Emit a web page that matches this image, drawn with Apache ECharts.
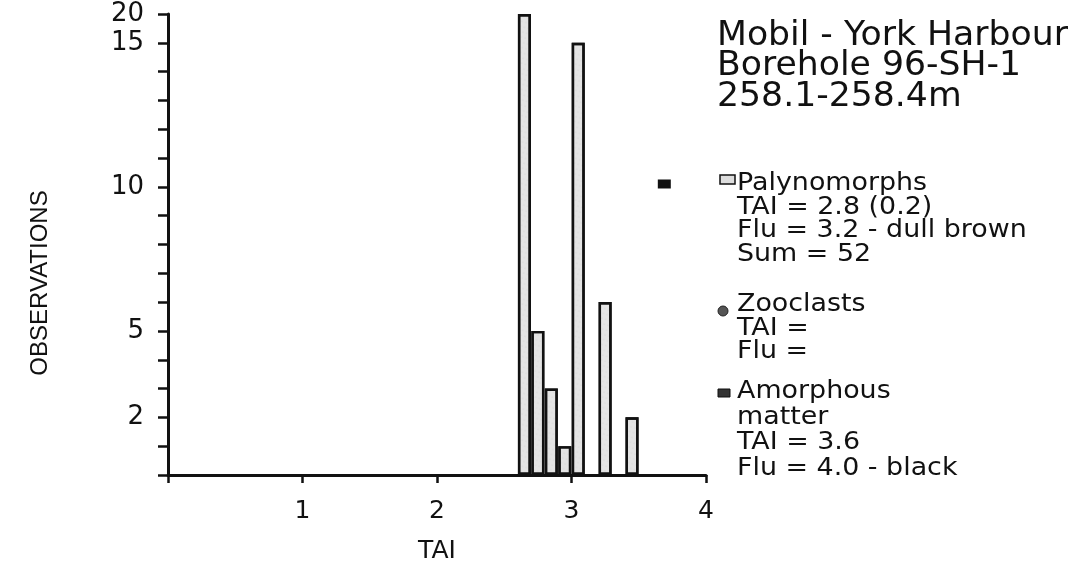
<!DOCTYPE html>
<html>
<head>
<meta charset="utf-8">
<script src="https://cdn.jsdelivr.net/npm/echarts@6/dist/echarts.min.js"></script>
<style>html,body{margin:0;padding:0;background:#fff}#c{width:1071px;height:563px}</style>
</head>
<body>
<div id="c"></div>
<script>
// TAI bin centres and observation counts (Palynomorphs)
const taiBins = [2.65, 2.75, 2.85, 2.95, 3.05, 3.25, 3.45];
const counts = [20, 5, 3, 1, 15, 6, 2];
// Amorphous matter marker [TAI, observations]
const amorphous = [[3.69, 10.1]];
// y tick labels (value -> text); axis is broken above 15 (20 drawn one unit above 15)
const yTickLabels = {2: '2', 5: '5', 10: '10', 15: '15', 16: '20'};
const xTickLabels = ['', '1', '2', '3', '4'];
const titleLines = ['Mobil - York Harbour', 'Borehole 96-SH-1', '258.1-258.4m'];
const palyLines = ['Palynomorphs', 'TAI = 2.8 (0.2)', 'Flu = 3.2 - dull brown', 'Sum = 52'];
const zooLines = ['Zooclasts', 'TAI =', 'Flu ='];
const amorLines = ['Amorphous', 'matter', 'TAI = 3.6', 'Flu = 4.0 - black'];

// axis break: values above 15 are compressed (20 -> 16)
function brk(v) { return v <= 15 ? v : 15 + (v - 15) / 5; }

const FONT = '"DejaVu Sans", sans-serif';
const chart = echarts.init(document.getElementById('c'), null, {renderer: 'canvas'});

const graphics = [];
function addLines(lines, x, yStart, step, size, sx) {
  lines.forEach((t, i) => {
    graphics.push({
      type: 'text', x: x, y: yStart + i * step, scaleX: sx, silent: true,
      style: {text: t, fontFamily: 'DejaVu Sans', fontSize: size, fill: '#111',
              align: 'left', verticalAlign: 'middle', textAlign: 'left', textVerticalAlign: 'middle'}
    });
  });
}
addLines(titleLines, 717, 36, 30.5, 33, 1.05);
addLines(palyLines, 737, 184, 23.5, 24, 1.12);
addLines(zooLines, 737, 305, 23.5, 24, 1.12);
addLines(amorLines, 737, 392, 25.5, 24, 1.12);

// legend icons
graphics.push({type: 'rect', shape: {x: 720, y: 175, width: 15, height: 9},
  style: {fill: '#ddd', stroke: '#111', lineWidth: 1.5}, silent: true});
graphics.push({type: 'circle', shape: {cx: 723, cy: 311, r: 5},
  style: {fill: '#555', stroke: '#222', lineWidth: 1}, silent: true});
graphics.push({type: 'rect', shape: {x: 718, y: 389, width: 12, height: 8},
  style: {fill: '#333', stroke: '#111', lineWidth: 1}, silent: true});
// y axis title
graphics.push({type: 'text', x: 40, y: 283, rotation: Math.PI / 2, silent: true,
  style: {text: 'OBSERVATIONS', fontFamily: 'Liberation Sans', fontSize: 24, fill: '#111',
          align: 'center', verticalAlign: 'middle', textAlign: 'center', textVerticalAlign: 'middle'}});

chart.setOption({
  animation: false,
  backgroundColor: '#fff',
  grid: {left: 168, right: 365, top: 14, bottom: 88, containLabel: false, outerBoundsMode: 'none'},
  xAxis: {
    type: 'value', min: 0, max: 4, interval: 1,
    name: 'TAI', nameLocation: 'middle', nameGap: 64,
    nameTextStyle: {fontFamily: FONT, fontSize: 25, color: '#111'},
    axisLine: {show: true, onZero: false, lineStyle: {color: '#111', width: 3}},
    axisTick: {show: true, length: 8, lineStyle: {color: '#111', width: 2.5}},
    axisLabel: {margin: 24, fontFamily: FONT, fontSize: 25, color: '#111',
      formatter: v => xTickLabels[Math.round(v)] || ''},
    splitLine: {show: false}
  },
  yAxis: {
    type: 'value', min: 0, max: 16, interval: 1,
    axisLine: {show: true, lineStyle: {color: '#111', width: 3}},
    axisTick: {show: true, length: 10, lineStyle: {color: '#111', width: 2.5}},
    axisLabel: {margin: 24, fontFamily: FONT, fontSize: 26, color: '#111',
      formatter: v => yTickLabels[Math.round(v)] || ''},
    splitLine: {show: false}
  },
  series: [
    {
      type: 'bar', name: 'Palynomorphs', barWidth: 13,
      data: taiBins.map((t, i) => [t, brk(counts[i])]),
      itemStyle: {color: '#e4e4e4', borderColor: '#111', borderWidth: 2.4,
        decal: {symbol: 'circle', symbolSize: 0.35, color: 'rgba(80,80,80,0.45)', dashArrayX: [2, 2], dashArrayY: [2, 3], rotation: 0.3}}
    },
    {
      type: 'scatter', name: 'Amorphous matter', symbol: 'rect', symbolSize: [13, 9],
      data: amorphous.map(p => [p[0], brk(p[1])]),
      itemStyle: {color: '#111', opacity: 1}
    }
  ],
  graphic: graphics
});
</script>
</body>
</html>
